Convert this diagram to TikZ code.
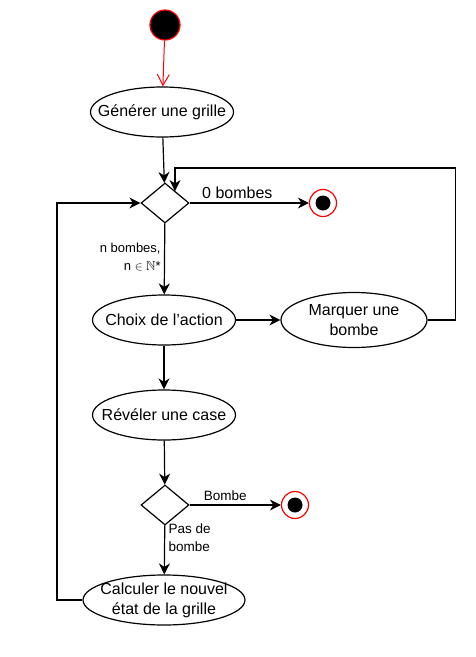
\documentclass[tikz,border=0pt]{standalone}
\usepackage{amssymb}
\usepackage{fontspec}
\setmainfont{Liberation Sans}
\usetikzlibrary{shapes.geometric, arrows.meta}
\tikzset{
    act/.style={draw, ellipse, line width=1.2pt, minimum height=50pt, minimum width=143pt, inner xsep=-15pt, inner ysep=-8pt, align=center, font=\fontsize{16}{20}\selectfont},
    choice/.style={draw, diamond, line width=1.2pt, minimum width=48pt, minimum height=40pt, inner sep=0pt},
    fin/.style={draw=red, circle, line width=1.2pt, fill=white, minimum size=27pt, inner sep=0pt},
    lbl/.style={font=\fontsize{13.5}{18}\selectfont, align=left},
    flow/.style={line width=1.2pt, -{Stealth[length=11pt, width=11pt, inset=3.5pt]}}
}

\begin{document}
\begin{tikzpicture}[x=1pt, y=-1pt]
    \useasboundingbox (0,0) rectangle (476,657);

    \node[draw=red, circle, line width=1.2pt, fill=black, minimum size=30pt, inner sep=0pt] (start) at (165,25) {};
    \node[act] (gen) at (162,112) {Générer une grille};
    \node[choice] (d1) at (165,203) {};
    \node[fin] (end1) at (323,203) {};
    \fill (end1) circle (7.5pt);
    \node[act] (choix) at (164,320) {Choix de l'action};
    \node[act, minimum width=146pt, minimum height=55pt] (marq) at (354,320) {Marquer une\\bombe};
    \node[act] (rev) at (164,415) {Révéler une case};
    \node[choice] (d2) at (165,505) {};
    \node[fin] (end2) at (295,505) {};
    \fill (end2) circle (7.5pt);
    \node[act, minimum width=162pt] (calc) at (164,600) {Calculer le nouvel\\état de la grille};
    \coordinate (loopin) at (175,191);

    \draw[red, line width=1pt, -{Straight Barb[length=11pt, width=12pt]}] (start) -- (gen);
    \draw[flow] (gen) -- (d1);
    \draw[flow] (d1) -- node[lbl, above, pos=0.4, font=\fontsize{16}{20}\selectfont] {0 bombes} (end1);
    \draw[flow] (d1) -- node[lbl, left, align=right, pos=0.47, font=\fontsize{13}{18}\selectfont] {n bombes,\\n $\in\mathbb{N}$*} (choix);
    \draw[flow] (choix) -- (marq);
    \draw[flow] (marq.east) -- ++(28,0) |- (175,168) -- (loopin);
    \draw[flow] (choix) -- (rev);
    \draw[flow] (rev) -- (d2);
    \draw[flow] (d2) -- node[lbl, above, pos=0.39] {Bombe} (end2);
    \draw[flow] (d2) -- node[lbl, right, pos=0.24] {Pas de\\bombe} (calc);
    \draw[flow] (calc.west) -- (57,600) |- (d1.west);
\end{tikzpicture}
\end{document}
